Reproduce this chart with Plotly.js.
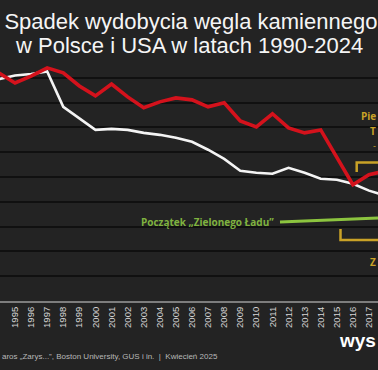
<!DOCTYPE html>
<html>
<head>
<meta charset="utf-8">
<script src="https://cdn.plot.ly/plotly-3.0.1.min.js"></script>
<style>html,body{margin:0;padding:0;background:#232323;}#chart{width:378px;height:370px;}</style>
</head>
<body>
<div id="chart"></div>
<script>
// Visible years of the cropped chart
var years = [1994,1995,1996,1997,1998,1999,2000,2001,2002,2003,2004,2005,2006,2007,2008,2009,2010,2011,2012,2013,2014,2015,2016,2017,2018];
// USA (red line), index
var usa = [92.0,87.9,90.7,94.0,92.0,86.7,82.7,87.5,82.3,77.9,80.3,81.9,81.1,78.3,79.9,72.6,70.2,75.5,69.8,67.8,69.0,58.1,46.9,50.9,52.5];
// Polska (white line), index
var polska = [89.5,90.9,91.5,92.6,78.3,73.8,69.0,69.4,69.0,67.8,67.0,65.8,64.2,61.0,57.3,52.5,51.7,51.3,53.7,51.7,49.3,48.9,47.3,44.5,42.5];

var titleLine1 = "Spadek wydobycia węgla kamiennego";
var titleLine2 = "w Polsce i USA w latach 1990-2024";
var greenDealLabel = "Początek „Zielonego Ładu”";
var sourceText = "aros „Zarys...”, Boston University, GUS i in.  |  Kwiecień 2025";
var brandText = "wys";

var X0 = 1994.068, PXY = 16.09; // axis range helpers
function px(p){ return X0 + p / PXY; }
function py(p){ return (301 - p) / 2.48; }
var XMAX = px(378);

var traces = [
  {x: years, y: polska, type: 'scatter', mode: 'lines', name: 'Polska',
   line: {color: '#f4f4f4', width: 2.6}, hoverinfo: 'skip'},
  {x: years, y: usa, type: 'scatter', mode: 'lines', name: 'USA',
   line: {color: '#d4121c', width: 3.6}, hoverinfo: 'skip'}
];

var yellow = '#c9a227';
var layout = {
  width: 378, height: 370,
  paper_bgcolor: '#232323', plot_bgcolor: '#232323',
  margin: {l: 0, r: 0, t: 53, b: 69, pad: 0},
  showlegend: false,
  title: {text: titleLine1, x: 0.505, xanchor: 'center', xref: 'paper',
          y: 1 - 21/370, yanchor: 'middle', yref: 'container',
          font: {family: 'Liberation Sans, Arial, sans-serif', size: 22, color: '#f5f5f5'}},
  xaxis: {range: [X0, XMAX], dtick: 1, tick0: 1990, tickangle: -90, showgrid: false,
          zeroline: false, showline: true, linecolor: '#7d7d7d', linewidth: 2, ticks: '',
          tickfont: {family: 'Liberation Sans, Arial, sans-serif', size: 9.5, color: '#d6d6d6'},
          fixedrange: true},
  yaxis: {range: [0, 100], dtick: 10, showticklabels: false, showgrid: true,
          gridcolor: '#101010', gridwidth: 2, zeroline: false, ticks: '', fixedrange: true},
  shapes: [
    {type: 'line', xref: 'x', yref: 'y', x0: px(280), y0: py(222), x1: XMAX, y1: py(218),
     line: {color: '#8cc43f', width: 3}},
    {type: 'path', xref: 'x', yref: 'y',
     path: 'M ' + px(356.7) + ' ' + py(172) + ' L ' + px(356.7) + ' ' + py(162.5) + ' L ' + XMAX + ' ' + py(162.5),
     line: {color: yellow, width: 2.5}},
    {type: 'path', xref: 'x', yref: 'y',
     path: 'M ' + px(340.5) + ' ' + py(229) + ' L ' + px(340.5) + ' ' + py(240) + ' L ' + XMAX + ' ' + py(240),
     line: {color: yellow, width: 2.5}}
  ],
  annotations: [
    {text: titleLine2, xref: 'paper', yref: 'paper', x: 189/378, y: (301-45)/248,
     xanchor: 'center', yanchor: 'middle', showarrow: false,
     font: {family: 'Liberation Sans, Arial, sans-serif', size: 22, color: '#f5f5f5'}},
    {text: greenDealLabel, xref: 'paper', yref: 'paper', x: 276/378, y: (301-222)/248,
     xanchor: 'right', yanchor: 'middle', showarrow: false,
     font: {family: 'Open Sans, sans-serif', size: 10, color: '#7fb23f', weight: 'bold'}},
    {text: 'Pie', xref: 'paper', yref: 'paper', x: 1, y: (301-116)/248,
     xanchor: 'right', yanchor: 'middle', showarrow: false,
     font: {family: 'Open Sans, sans-serif', size: 10, color: yellow, weight: 'bold'}},
    {text: 'T', xref: 'paper', yref: 'paper', x: 1, y: (301-131)/248,
     xanchor: 'right', yanchor: 'middle', showarrow: false,
     font: {family: 'Open Sans, sans-serif', size: 10, color: yellow, weight: 'bold'}},
    {text: '-', xref: 'paper', yref: 'paper', x: 1, y: (301-145)/248,
     xanchor: 'right', yanchor: 'middle', showarrow: false,
     font: {family: 'Open Sans, sans-serif', size: 9, color: yellow}},
    {text: 'Z', xref: 'paper', yref: 'paper', x: 1, y: (301-262)/248,
     xanchor: 'right', yanchor: 'middle', showarrow: false,
     font: {family: 'Open Sans, sans-serif', size: 10, color: yellow, weight: 'bold'}},
    {text: sourceText, xref: 'paper', yref: 'paper', x: 0, y: (301-356)/248,
     xanchor: 'left', yanchor: 'middle', showarrow: false,
     font: {family: 'Liberation Sans, Arial, sans-serif', size: 8, color: '#b8b8b8'}},
    {text: brandText, xref: 'paper', yref: 'paper', x: 1, y: (301-340)/248,
     xanchor: 'right', yanchor: 'middle', showarrow: false,
     font: {family: 'Liberation Sans, Arial, sans-serif', size: 19, color: '#ffffff', weight: 'bold'}}
  ]
};

Plotly.newPlot('chart', traces, layout, {staticPlot: true, displayModeBar: false});
</script>
</body>
</html>
